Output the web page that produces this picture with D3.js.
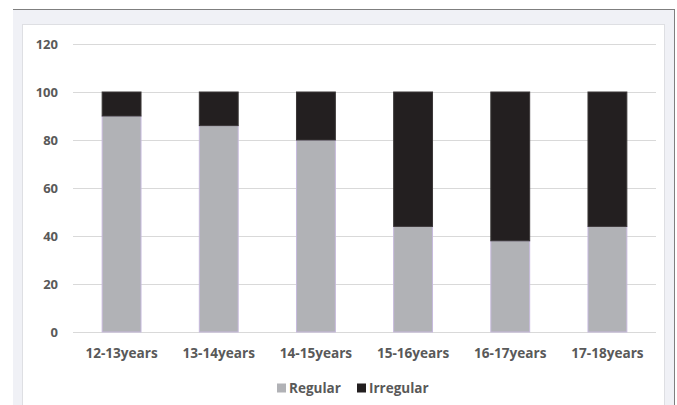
<!DOCTYPE html>
<html>
<head>
<meta charset="utf-8">
<script src="https://cdn.jsdelivr.net/npm/d3@7/dist/d3.min.js"></script>
<style>
  html, body { margin: 0; padding: 0; background: #ffffff; }
  svg { display: block; }
  text { font-family: "Open Sans", Lato, sans-serif; font-weight: bold; fill: #595959; }
</style>
</head>
<body>
<script>
// Menstrual cycle regularity by age group (%)
const categories = ["12-13years", "13-14years", "14-15years", "15-16years", "16-17years", "17-18years"];
const regular = [90, 86, 80, 44, 38, 44];
const irregular = [10, 14, 20, 56, 62, 56];
const seriesNames = ["Regular", "Irregular"];
const seriesColors = ["#b1b2b6", "#231f20"];
const yTicks = [0, 20, 40, 60, 80, 100, 120];

const W = 677, H = 405;
const FONT = "'Open Sans', Lato, sans-serif";
const svg = d3.select("body").append("svg").attr("width", W).attr("height", H);

// outer frame and inner panel
svg.append("rect").attr("x", 13).attr("y", 9).attr("width", 661).attr("height", H - 9).attr("fill", "#f0f1f6");
svg.append("line").attr("x1", 13).attr("x2", 674.5).attr("y1", 9.5).attr("y2", 9.5).attr("stroke", "#7f7f7f");
svg.append("line").attr("x1", 674.5).attr("x2", 674.5).attr("y1", 9).attr("y2", H).attr("stroke", "#7f7f7f");
svg.append("rect").attr("x", 22.5).attr("y", 24.5).attr("width", 642).attr("height", H - 24).attr("fill", "#ffffff").attr("stroke", "#dedfe3");

const plot = { left: 73, right: 656, top: 44, bottom: 332 };

const x = d3.scaleBand().domain(categories).range([plot.left, plot.right]).paddingInner(0.6).paddingOuter(0.3);
const y = d3.scaleLinear().domain([0, 120]).range([plot.bottom, plot.top]);

// gridlines
svg.append("g").selectAll("line").data(yTicks).join("line")
  .attr("x1", plot.left).attr("x2", plot.right)
  .attr("y1", d => Math.round(y(d)) + 0.5).attr("y2", d => Math.round(y(d)) + 0.5)
  .attr("stroke", "#d9d9d9").attr("stroke-width", 1);

// y axis labels
const yAxis = d3.axisLeft(y).tickValues(yTicks).tickSize(0).tickPadding(0);
const gy = svg.append("g").attr("transform", `translate(${58},0)`).call(yAxis);
gy.select(".domain").remove();
gy.selectAll("text").attr("font-size", 13).attr("fill", "#595959")
  .style("font-family", FONT).style("font-weight", "bold");

// x axis labels
const xAxis = d3.axisBottom(x).tickSize(0).tickPadding(0);
const gx = svg.append("g").attr("transform", `translate(0,${348})`).call(xAxis);
gx.select(".domain").remove();
gx.selectAll("text").attr("font-size", 13.6).attr("fill", "#595959")
  .style("font-family", FONT).style("font-weight", "bold");

// stacked bars
const rows = categories.map((c, i) => ({ cat: c, Regular: regular[i], Irregular: irregular[i] }));
const stack = d3.stack().keys(seriesNames)(rows);
const strokes = ["#c6b9dc", "#3a3637"];
svg.append("g").selectAll("g").data(stack).join("g")
  .attr("fill", (d, i) => seriesColors[i])
  .attr("stroke", (d, i) => strokes[i])
  .selectAll("rect").data(d => d).join("rect")
  .attr("x", d => x(d.data.cat))
  .attr("width", x.bandwidth())
  .attr("y", d => y(d[1]))
  .attr("height", d => y(d[0]) - y(d[1]))
  .attr("stroke-width", 1);

// legend
const legend = svg.append("g").attr("transform", "translate(277,388)");
const legendX = [0, 80];
seriesNames.forEach((name, i) => {
  const g = legend.append("g").attr("transform", `translate(${legendX[i]},0)`);
  g.append("rect").attr("x", 0).attr("y", -4.5).attr("width", 9).attr("height", 9).attr("fill", seriesColors[i]);
  g.append("text").attr("x", 12).attr("y", 0).attr("dy", "0.35em").attr("font-size", 13.5).text(name);
});
</script>
</body>
</html>
